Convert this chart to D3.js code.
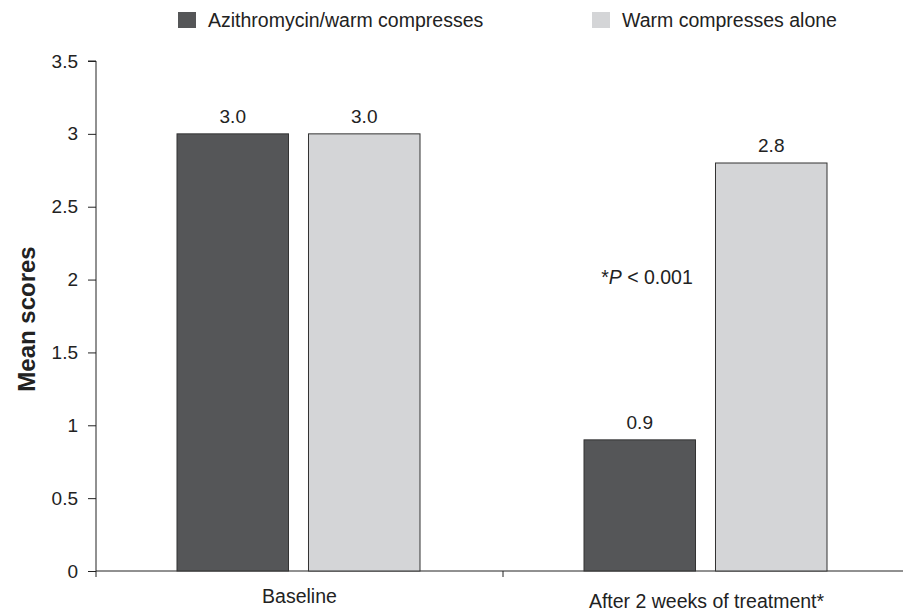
<!DOCTYPE html>
<html>
<head>
<meta charset="utf-8">
<script src="https://cdn.jsdelivr.net/npm/d3@7"></script>
<style>
body { margin:0; background:#fff; }
svg text { font-family:"Liberation Sans", Arial, sans-serif; fill:#222; }
.axis path, .axis line { stroke:#222; stroke-width:1; }
.axis text { font-size:19px; }
</style>
</head>
<body>
<script>

//Data
var groups = ["Baseline", "After 2 weeks of treatment*"];
var series = ["Azithromycin/warm compresses", "Warm compresses alone"];
var azithro = [3.0, 0.9];
var warmOnly = [3.0, 2.8];
var yTicks = [0, 0.5, 1, 1.5, 2, 2.5, 3, 3.5];
var colors = ["#555658", "#d4d5d7"];

var rows = [];
groups.forEach(function(g, i) {
  rows.push({group:g, s:0, v:azithro[i]});
  rows.push({group:g, s:1, v:warmOnly[i]});
});

var W = 903, H = 613;
var svg = d3.select("body").append("svg")
    .attr("width", W).attr("height", H);

//Scales
var x = d3.scaleBand().domain(groups).range([96, 910]);
var xs = d3.scaleBand().domain([0, 1]).range([81, 324]).paddingInner(0.152);
var y = d3.scaleLinear().domain([0, 3.5]).range([571, 61]);

//Y axis
svg.append("g")
    .attr("class", "axis")
    .attr("transform", "translate(96,0)")
    .call(d3.axisLeft(y).tickValues(yTicks).tickSize(8).tickPadding(10)
      .tickFormat(d3.format("")))
    .call(g => g.select(".domain").attr("d", "M-8," + y(3.5) + "H0V" + (y(0) + 6)));

//X axis - line plus a tick between the groups
var xa = svg.append("g")
    .attr("class", "axis")
    .attr("transform", "translate(0,571)");
xa.append("line").attr("x1", 96).attr("x2", 910).attr("y1", 0).attr("y2", 0);
xa.selectAll(".sep").data([groups[1]]).enter().append("line")
    .attr("x1", d => x(d)).attr("x2", d => x(d))
    .attr("y1", 0).attr("y2", 6);

svg.selectAll(".xlab").data(groups).enter().append("text")
    .attr("x", d => x(d) + x.bandwidth() / 2)
    .attr("y", (d, i) => i == 0 ? 603 : 608)
    .attr("text-anchor", "middle")
    .style("font-size", "19.5px")
    .text(d => d);

//Bars
svg.selectAll("rect.bar").data(rows).enter().append("rect")
    .attr("class", "bar")
    .attr("x", d => x(d.group) + xs(d.s))
    .attr("width", xs.bandwidth())
    .attr("y", d => y(d.v))
    .attr("height", d => y(0) - y(d.v))
    .attr("fill", d => colors[d.s])
    .attr("stroke", "#333")
    .attr("stroke-width", 1);

svg.selectAll("text.val").data(rows).enter().append("text")
    .attr("class", "val")
    .attr("x", d => x(d.group) + xs(d.s) + xs.bandwidth() / 2)
    .attr("y", d => y(d.v) - 11)
    .attr("text-anchor", "middle")
    .style("font-size", "19px")
    .text(d => d3.format(".1f")(d.v));

//P value note
var pt = svg.append("text")
    .attr("x", 647).attr("y", 284)
    .attr("text-anchor", "middle")
    .style("font-size", "19.5px");
pt.append("tspan").text("*");
pt.append("tspan").style("font-style", "italic").text("P");
pt.append("tspan").text(" < 0.001");

//Y title
svg.append("text")
    .attr("transform", "translate(35,319) rotate(-90)")
    .attr("text-anchor", "middle")
    .style("font-size", "24px")
    .style("font-weight", "bold")
    .text("Mean scores");

//Legend
var lx = [178, 592];
var leg = svg.selectAll(".leg").data(series).enter().append("g")
    .attr("transform", (d, i) => "translate(" + lx[i] + ",12)");
leg.append("rect").attr("width", 18).attr("height", 16)
    .attr("fill", (d, i) => colors[i]);
leg.append("text").attr("x", 30).attr("y", 15)
    .style("font-size", "19.5px")
    .text(d => d);

</script>
</body>
</html>
